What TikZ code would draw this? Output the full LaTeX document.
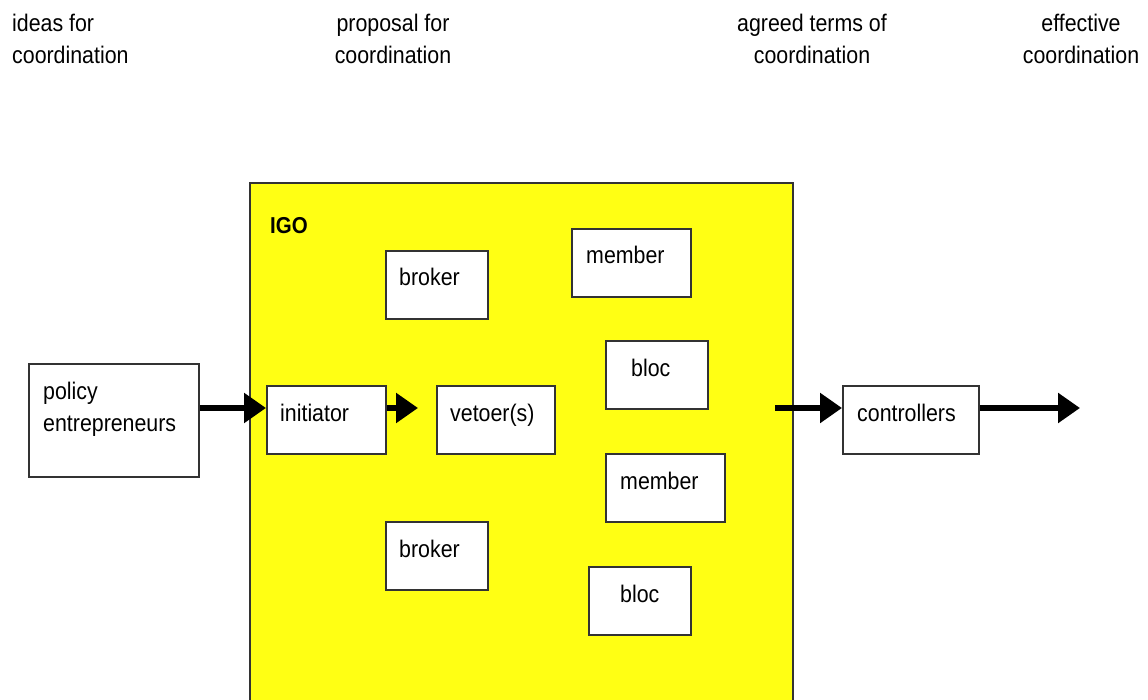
\documentclass[tikz,border=0pt]{standalone}
\usepackage{fontspec}
\setmainfont{Liberation Sans}[FakeStretch=0.89]
\usetikzlibrary{arrows.meta,calc}
\definecolor{igoyellow}{HTML}{FFFF14}
\definecolor{edge}{HTML}{333333}
\begin{document}
\begin{tikzpicture}[x=1pt,y=-1pt,
  box/.style={draw=edge,line width=1.8pt,fill=white,anchor=north west,inner sep=0pt},
  txt/.style={inner sep=0pt,font=\fontsize{24}{32}\selectfont},
  arr/.style={line width=6pt,-{Triangle[length=22pt,width=29pt]}}]
\useasboundingbox (0,0) rectangle (1148,700);
\clip (0,0) rectangle (1148,700);
% top labels
\node[txt,anchor=north west,align=left] (l1) at (12,13.5) {ideas for\\coordination};
\node[txt,anchor=north,align=center] (l2) at (393,13.5) {proposal for\\coordination};
\node[txt,anchor=north,align=center] (l3) at (812,13.5) {agreed terms of\\coordination};
\node[txt,anchor=north,align=center] (l4) at (1081,13.5) {effective\\coordination};
% IGO box
\node[box,fill=igoyellow,minimum width=543pt,minimum height=560pt] (igo) at (249,182) {};
\node[txt,anchor=base west,font=\fontsize{23}{28}\selectfont\bfseries] (igot) at (270,234) {IGO};
% policy entrepreneurs
\node[box,minimum width=170pt,minimum height=113pt] (policy) at (28,363) {};
\node[txt,anchor=north west,align=left] (policyt) at (43,381.5) {policy\\entrepreneurs};
% inner boxes
\node[box,minimum width=102pt,minimum height=68pt] (broker1) at (385,250) {};
\node[txt,anchor=base west] (broker1t) at (399,286) {broker};
\node[box,minimum width=119pt,minimum height=68pt] (member1) at (571,228) {};
\node[txt,anchor=base west] (member1t) at (586,264) {member};
\node[box,minimum width=102pt,minimum height=68pt] (bloc1) at (605,340) {};
\node[txt,anchor=base west] (bloc1t) at (631,376) {bloc};
\node[box,minimum width=119pt,minimum height=68pt] (init) at (266,385) {};
\node[txt,anchor=base west] (initt) at (280,421) {initiator};
\node[box,minimum width=118pt,minimum height=68pt] (veto) at (436,385) {};
\node[txt,anchor=base west] (vetot) at (450,421) {vetoer(s)};
\node[box,minimum width=119pt,minimum height=68pt] (member2) at (605,453) {};
\node[txt,anchor=base west] (member2t) at (620,489) {member};
\node[box,minimum width=102pt,minimum height=68pt] (broker2) at (385,521) {};
\node[txt,anchor=base west] (broker2t) at (399,557) {broker};
\node[box,minimum width=102pt,minimum height=68pt] (bloc2) at (588,566) {};
\node[txt,anchor=base west] (bloc2t) at (620,602) {bloc};
% controllers
\node[box,minimum width=136pt,minimum height=68pt] (ctrl) at (842,385) {};
\node[txt,anchor=base west] (ctrlt) at (857,421) {controllers};
% arrows
\coordinate (ay) at (0,408);
\coordinate (v1) at (418,408);
\coordinate (c0) at (775,408);
\coordinate (out) at (1080,408);
\draw[arr] (policy.east |- ay) -- (init.west |- ay);
\draw[arr] (init.east |- ay) -- (v1);
\draw[arr] (c0) -- (ctrl.west |- ay);
\draw[arr] (ctrl.east |- ay) -- (out);
\end{tikzpicture}
\end{document}
